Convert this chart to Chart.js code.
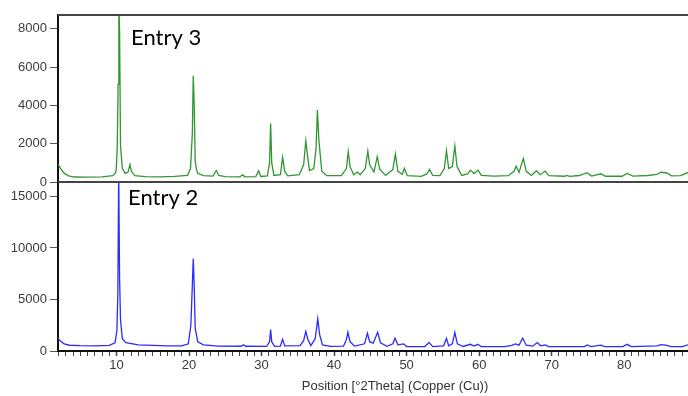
<!DOCTYPE html>
<html>
<head>
<meta charset="utf-8">
<script src="https://cdn.jsdelivr.net/npm/chart.js@4"></script>
<style>
  html, body { margin: 0; padding: 0; background: #fff; }
  #wrap { width: 688px; height: 396px; }
</style>
</head>
<body>
<div id="wrap"><canvas id="xrdChart" width="688" height="396"></canvas></div>
<script>
// [2theta, counts]
const entry3 = [
  [1.9, 950], [2.3, 700], [2.8, 450], [3.4, 320], [4.2, 260], [6, 250], [8, 270], [9.5, 330],
  [9.8, 450], [9.95, 600], [10.1, 1800], [10.22, 5100], [10.32, 9300], [10.42, 7900], [10.55, 1900],
  [10.8, 700], [11.2, 450], [11.6, 520], [11.85, 920], [12.05, 560], [12.5, 330], [14, 280],
  [16, 270], [18, 290], [19.8, 350], [20.2, 700], [20.45, 2500], [20.58, 5550], [20.7, 4200],
  [20.85, 1100], [21.0, 700], [21.2, 450], [22, 330], [23.3, 310], [23.75, 600], [24.1, 340],
  [25, 280], [27, 270], [27.4, 370], [27.7, 270], [29.2, 280], [29.6, 580], [29.9, 290],
  [30.8, 320], [31.1, 1000], [31.25, 3050], [31.4, 1000], [31.7, 340], [32.6, 380], [32.9, 1290],
  [33.2, 550], [33.6, 320], [35.2, 380], [35.8, 900], [36.1, 2150], [36.3, 1500], [36.6, 600],
  [37.2, 700], [37.5, 1700], [37.7, 3760], [37.9, 2200], [38.3, 560], [39, 330], [41, 330],
  [41.7, 700], [41.95, 1580], [42.2, 800], [42.7, 380], [43.2, 520], [43.6, 380], [44.3, 700],
  [44.65, 1620], [44.9, 900], [45.5, 520], [45.95, 1320], [46.3, 650], [47.1, 340], [48.1, 650],
  [48.45, 1460], [48.8, 560], [49.4, 400], [49.7, 710], [50.1, 330], [52, 290], [52.8, 420],
  [53.15, 660], [53.6, 350], [54.6, 330], [55.2, 700], [55.5, 1630], [55.8, 700], [56.3, 800],
  [56.65, 1880], [56.95, 800], [57.6, 340], [58.4, 420], [58.8, 620], [59.3, 440], [59.85, 620],
  [60.3, 350], [62, 310], [64, 330], [64.8, 550], [65.1, 830], [65.5, 500], [65.9, 1000],
  [66.1, 1220], [66.5, 560], [67.2, 340], [67.9, 590], [68.4, 380], [69.1, 570], [69.6, 330],
  [71.8, 300], [72.1, 340], [72.5, 290], [73.8, 340], [74.9, 490], [75.5, 310], [76.8, 430],
  [77.4, 300], [79.7, 300], [80.4, 450], [81.2, 310], [83.3, 340], [84.5, 400], [85.1, 510],
  [85.9, 470], [86.5, 320], [87.8, 330], [88.8, 500]
];

const entry2 = [
  [1.9, 1250], [2.3, 950], [2.8, 700], [3.5, 560], [5, 520], [7, 500], [9, 540], [9.8, 800],
  [10.05, 2000], [10.18, 5500], [10.3, 17500], [10.42, 7100], [10.55, 3000], [10.8, 1200],
  [11.3, 800], [13, 600], [15, 540], [17, 500], [19, 490], [19.9, 700], [20.25, 2500],
  [20.45, 6300], [20.58, 8950], [20.7, 6600], [20.85, 2200], [21.2, 900], [22, 600], [24, 480],
  [27.2, 460], [27.5, 600], [27.8, 460], [30.7, 440], [31.1, 900], [31.25, 2070], [31.4, 900],
  [31.8, 450], [32.6, 480], [32.9, 1140], [33.2, 500], [35.3, 520], [35.8, 1000], [36.1, 1890],
  [36.4, 1100], [36.8, 520], [37.4, 1200], [37.75, 3140], [38, 1600], [38.4, 600], [39.5, 450],
  [41.3, 480], [41.7, 1100], [41.9, 1820], [42.2, 900], [42.8, 480], [44.2, 700], [44.6, 1720],
  [44.9, 900], [45.4, 760], [46.0, 1820], [46.4, 800], [47.3, 460], [48.1, 700], [48.4, 1240],
  [48.8, 600], [49.6, 690], [50, 430], [52.5, 430], [53.1, 840], [53.6, 430], [55.1, 500],
  [55.5, 1240], [55.8, 500], [56.3, 700], [56.65, 1790], [57, 700], [57.8, 440], [58.8, 650],
  [59.3, 480], [59.8, 650], [60.3, 430], [63.5, 420], [64.5, 550], [65.0, 690], [65.5, 560],
  [66.0, 1240], [66.5, 560], [67.4, 470], [68.0, 820], [68.5, 500], [69.1, 590], [69.6, 420],
  [74.5, 420], [74.9, 590], [75.4, 430], [76.8, 560], [77.3, 420], [79.8, 430], [80.4, 650],
  [81, 430], [84.5, 500], [85.1, 620], [85.7, 560], [86.5, 430], [88, 430], [88.8, 590]
];

const xRange = [1.93, 88.8];
const topRange = [0, 8720];
const botRange = [0, 16400];
const topTicks = [0, 2000, 4000, 6000, 8000];
const botTicks = [0, 5000, 10000, 15000];
const panelLabels = ['Entry 3', 'Entry 2'];
const xTitle = 'Position [°2Theta] (Copper (Cu))';

const tickFont = { family: 'Liberation Sans, Arial, sans-serif', size: 13 };
const tickColor = '#3d3a38';

function toPoints(arr) {
  return arr.map(p => ({ x: p[0], y: p[1] }));
}

const yAxis = (range, ticks, weight) => ({
  type: 'linear',
  position: 'left',
  stack: 'panels',
  stackWeight: weight,
  weight: weight === 167 ? 1 : 0,
  min: range[0],
  max: range[1],
  afterBuildTicks: s => { s.ticks = ticks.map(v => ({ value: v })); },
  afterFit: s => { s.width = 58; },
  ticks: { font: tickFont, color: tickColor, padding: 3, callback: v => String(v) },
  grid: { display: true, drawOnChartArea: false, tickLength: 8, tickColor: '#555' },
  border: { display: true, color: '#111', width: 2 }
});

const extras = {
  id: 'extras',
  afterDraw(chart) {
    const c = chart.ctx;
    const a = chart.chartArea;
    const yTop = chart.scales.yTop;
    c.save();
    c.strokeStyle = '#444';
    c.lineWidth = 2;
    c.beginPath();
    c.moveTo(a.left, a.top);
    c.lineTo(a.right, a.top);
    c.moveTo(a.left, yTop.bottom);
    c.lineTo(a.right, yTop.bottom);
    c.stroke();

    c.fillStyle = '#000';
    c.font = '22px Lato, "Open Sans", sans-serif';
    c.textBaseline = 'middle';
    c.fillText(panelLabels[0], a.left + 73, a.top + 23);
    c.fillText(panelLabels[1], a.left + 70, yTop.bottom + 16);

    c.fillStyle = '#333';
    c.font = '13px Liberation Sans, Arial, sans-serif';
    c.textAlign = 'center';
    c.fillText(xTitle, 395, 386);
    c.restore();
  }
};

new Chart(document.getElementById('xrdChart'), {
  type: 'line',
  data: {
    datasets: [
      {
        label: panelLabels[0],
        data: toPoints(entry3),
        yAxisID: 'yTop',
        borderColor: '#2f972f',
        borderWidth: 1.3,
        pointRadius: 0,
        tension: 0
      },
      {
        label: panelLabels[1],
        data: toPoints(entry2),
        yAxisID: 'yBot',
        borderColor: '#2b2bff',
        borderWidth: 1.3,
        pointRadius: 0,
        tension: 0
      }
    ]
  },
  options: {
    responsive: false,
    devicePixelRatio: 1,
    animation: false,
    layout: { padding: { top: 15, right: 0, left: 0, bottom: 0 } },
    plugins: { legend: { display: false }, tooltip: { enabled: false } },
    scales: {
      x: {
        type: 'linear',
        min: xRange[0],
        max: xRange[1],
        afterFit: s => { s.height = 45; },
        ticks: {
          stepSize: 1,
          includeBounds: false,
          autoSkip: false,
          maxRotation: 0,
          font: tickFont,
          color: tickColor,
          padding: 2,
          callback: v => (v % 10 === 0 ? String(v) : '')
        },
        grid: {
          display: true,
          drawOnChartArea: false,
          tickLength: 5,
          tickColor: '#444',
          tickWidth: c => (c.tick && c.tick.value % 10 === 0 ? 1.5 : 1)
        },
        border: { display: true, color: '#111', width: 2 }
      },
      yTop: yAxis(topRange, topTicks, 167),
      yBot: yAxis(botRange, botTicks, 169)
    }
  },
  plugins: [extras]
});
</script>
</body>
</html>
